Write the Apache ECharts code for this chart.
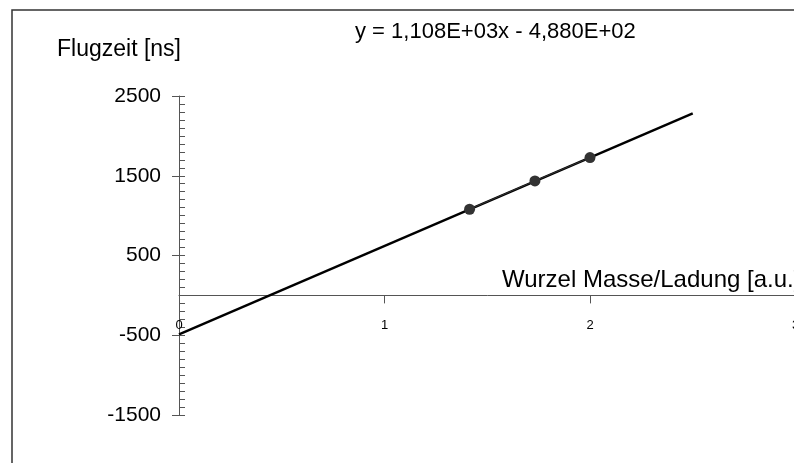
<!DOCTYPE html>
<html><head><meta charset="utf-8">
<script src="https://cdn.jsdelivr.net/npm/echarts@6/dist/echarts.min.js"></script>
<style>html,body{margin:0;padding:0;background:#fff;overflow:hidden}#c{width:820px;height:463px}</style>
</head><body><div id="c"></div>
<script>
// data
const pointX = [1.414, 1.732, 2.0];
const pointY = [1080, 1435, 1728];
const trendX = [0, 2.5];
const trendY = [-488, 2282];
const xTicks = ['0', '1', '2', '3'];
const yTicks = ['-1500', '-500', '500', '1500', '2500'];
const equation = 'y = 1,108E+03x - 4,880E+02';
const yTitle = 'Flugzeit [ns]';
const xTitle = 'Wurzel Masse/Ladung [a.u.]';

const FONT = '"Liberation Sans", Arial, sans-serif';
const chart = echarts.init(document.getElementById('c'), null, {renderer: 'canvas'});
chart.setOption({
  animation: false,
  backgroundColor: '#fff',
  grid: {left: 179, top: 96, width: 616.5, height: 319, containLabel: false},
  xAxis: {
    type: 'value', min: 0, max: 3, interval: 1, position: 'bottom', offset: -119.6,
    axisLine: {onZero: false, lineStyle: {color: '#555', width: 1}},
    axisTick: {show: true, length: 8, inside: false, lineStyle: {color: '#555'}},
    axisLabel: {margin: 24, fontSize: 13, color: '#000', fontFamily: FONT,
      formatter: v => xTicks[Math.round(v)] || '', showMaxLabel: true, showMinLabel: true},
    splitLine: {show: false}
  },
  yAxis: [{
    type: 'value', min: -1500, max: 2500, interval: 1000,
    axisLine: {show: true, onZero: false, lineStyle: {color: '#555', width: 1}},
    axisTick: {show: true, length: 7, inside: false, lineStyle: {color: '#555'}},
    axisLabel: {margin: 18, fontSize: 21, color: '#000', fontFamily: FONT,
      formatter: v => { const i = yTicks.indexOf(String(v)); return i >= 0 ? yTicks[i] : ''; }},
    splitLine: {show: false}
  }, {
    type: 'value', min: -1500, max: 2500, interval: 100, position: 'left',
    axisLine: {show: false},
    axisTick: {show: true, length: 6, inside: true, lineStyle: {color: '#555'}},
    axisLabel: {show: false},
    splitLine: {show: false}
  }],
  series: [{
    type: 'line', name: 'trend', yAxisIndex: 0,
    data: trendX.map((x, i) => [x, trendY[i]]),
    showSymbol: false, symbol: 'none',
    lineStyle: {color: '#000', width: 2.4}, z: 3
  }, {
    type: 'line', name: 'data', yAxisIndex: 0,
    data: pointX.map((x, i) => [x, pointY[i]]),
    symbol: 'circle', symbolSize: 11, showSymbol: true,
    itemStyle: {color: '#333'},
    lineStyle: {color: '#333', width: 1}, z: 4
  }],
  graphic: [
    {type: 'rect', shape: {x: 12, y: 10, width: 820, height: 470},
     style: {fill: 'none', stroke: '#333', lineWidth: 1.5}, silent: true},
    {type: 'text', x: 57, y: 50,
     style: {text: yTitle, font: '23px ' + FONT, fill: '#000', verticalAlign: 'middle'}},
    {type: 'text', x: 355, y: 32,
     style: {text: equation, font: '22px ' + FONT, fill: '#000', verticalAlign: 'middle'}},
    {type: 'text', x: 502, y: 280,
     style: {text: xTitle, font: '24px ' + FONT, fill: '#000', verticalAlign: 'middle'}}
  ]
});
</script></body></html>
